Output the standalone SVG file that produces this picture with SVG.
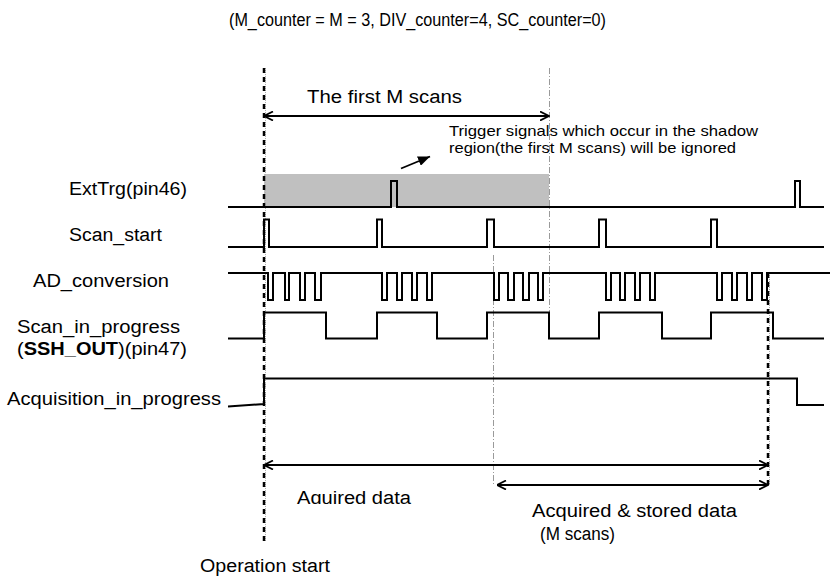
<svg xmlns="http://www.w3.org/2000/svg" width="836" height="577" viewBox="0 0 836 577">
<style>
  text { font-family: "Liberation Sans", Arial, sans-serif; fill: #000; }
  .lbl { font-size: 18px; }
  .small { font-size: 14.5px; }
  .title { font-size: 17.5px; }
  .wave { fill: none; stroke: #000; stroke-width: 2; stroke-linejoin: miter; }
  .guide { stroke: #9a9a9a; stroke-width: 1; stroke-dasharray: 6 2 1 2; fill: none; }
  .dot { stroke: #b0b0b0; stroke-width: 1; stroke-dasharray: 1 1; fill: none; }
  .dash { stroke: #000; stroke-width: 2.5; stroke-dasharray: 5 4; fill: none; }
  .arr { stroke: #000; stroke-width: 1.8; fill: none; }
</style>
<defs>
  <marker id="open" viewBox="0 0 10 10" refX="9.5" refY="5" markerWidth="10" markerHeight="10" markerUnits="userSpaceOnUse" orient="auto-start-reverse">
    <path d="M0.5,0.5 L9.5,5 L0.5,9.5" fill="none" stroke="#000" stroke-width="1.8"/>
  </marker>
  <marker id="solid" viewBox="0 0 12 10" refX="12" refY="5" markerWidth="12" markerHeight="10" markerUnits="userSpaceOnUse" orient="auto">
    <path d="M0,0 L12,5 L0,10 Z" fill="#000"/>
  </marker>
  <clipPath id="clipAq"><rect x="280" y="480" width="160" height="24"/></clipPath>
</defs>

<text class="title" x="229" y="26" textLength="377" lengthAdjust="spacingAndGlyphs">(M_counter = M = 3, DIV_counter=4, SC_counter=0)</text>

<g id="shadow">
  <rect x="264" y="174" width="285" height="33" fill="#c0c0c0"/>
</g>

<g id="guides">
  <line class="guide" x1="549.5" y1="68" x2="549.5" y2="312"/>
  <line class="guide" x1="493.5" y1="255" x2="493.5" y2="485"/>
  <line class="dot" x1="265.5" y1="68" x2="265.5" y2="541"/>
  <line class="dash" x1="264" y1="68" x2="264" y2="541"/>
  <line class="dot" x1="769.5" y1="273" x2="769.5" y2="485"/>
  <line class="dash" x1="768" y1="273" x2="768" y2="485"/>
</g>

<g id="exttrg">
  <text class="lbl" x="69" y="195" textLength="118" lengthAdjust="spacingAndGlyphs">ExtTrg(pin46)</text>
  <path class="wave" d="M228,207 H391 V181 H397 V207 H795 V181 H800 V207 H824"/>
</g>

<g id="scan_start">
  <text class="lbl" x="69" y="241" textLength="93" lengthAdjust="spacingAndGlyphs">Scan_start</text>
  <path class="wave" d="M228,247 H264 V219.5 H269 V247 H377 V219.5 H382 V247 H487 V219.5 H494 V247 H599 V219.5 H606 V247 H711 V219.5 H717 V247 H824"/>
</g>

<g id="ad_conversion">
  <text class="lbl" x="33" y="287" textLength="136" lengthAdjust="spacingAndGlyphs">AD_conversion</text>
  <path class="wave" d="M228,273 H268 V300 H273 V273 H285 V300 H289 V273 H300 V300 H305 V273 H315 V300 H321 V273
    H382 V300 H387 V273 H397 V300 H402 V273 H412 V300 H417 V273 H427 V300 H432 V273
    H494 V300 H499 V273 H508 V300 H514 V273 H523 V300 H529 V273 H538 V300 H543 V273
    H606 V300 H611 V273 H620 V300 H625 V273 H635 V300 H640 V273 H650 V300 H655 V273
    H717 V300 H722 V273 H732 V300 H737 V273 H747 V300 H752 V273 H762 V300 H767 V273 H830"/>
</g>

<g id="scan_in_progress">
  <text class="lbl" x="17" y="333" textLength="163" lengthAdjust="spacingAndGlyphs">Scan_in_progress</text>
  <text class="lbl" x="17" y="355" textLength="170" lengthAdjust="spacingAndGlyphs">(<tspan font-weight="bold">SSH_OUT</tspan>)(pin47)</text>
  <path class="wave" d="M228,338.5 H264 V312.5 H326 V338.5 H377 V312.5 H437 V338.5 H487 V312.5 H549 V338.5 H599 V312.5 H662 V338.5 H711 V312.5 H773 V338.5 H824"/>
</g>

<g id="acquisition_in_progress">
  <text class="lbl" x="7" y="405" textLength="214" lengthAdjust="spacingAndGlyphs">Acquisition_in_progress</text>
  <path class="wave" d="M228,406.5 L264,404 V378.5 H797 V405 H824"/>
</g>

<g id="connectors">
  <line class="arr" x1="264" y1="116" x2="549" y2="116" marker-start="url(#open)" marker-end="url(#open)"/>
  <line class="arr" x1="401" y1="168.5" x2="430" y2="156.5" marker-end="url(#solid)"/>
  <line class="arr" x1="264" y1="465" x2="768" y2="465" marker-start="url(#open)" marker-end="url(#open)"/>
  <line class="arr" x1="497" y1="485" x2="768" y2="485" marker-start="url(#open)" marker-end="url(#open)"/>
</g>

<g id="annotations">
  <text class="lbl" x="307" y="103" textLength="155" lengthAdjust="spacingAndGlyphs">The first M scans</text>
  <text class="small" x="449" y="136" textLength="309" lengthAdjust="spacingAndGlyphs">Trigger signals which occur in the shadow</text>
  <text class="small" x="449" y="152.5" textLength="287" lengthAdjust="spacingAndGlyphs">region(the first M scans) will be ignored</text>
  <text class="lbl" x="297" y="504" textLength="114" lengthAdjust="spacingAndGlyphs" clip-path="url(#clipAq)">Aquired data</text>
  <text class="lbl" x="532" y="517" textLength="205" lengthAdjust="spacingAndGlyphs">Acquired &amp; stored data</text>
  <text class="lbl" x="540" y="540" textLength="75" lengthAdjust="spacingAndGlyphs">(M scans)</text>
  <text class="lbl" x="200" y="572" textLength="130" lengthAdjust="spacingAndGlyphs">Operation start</text>
</g>
</svg>
